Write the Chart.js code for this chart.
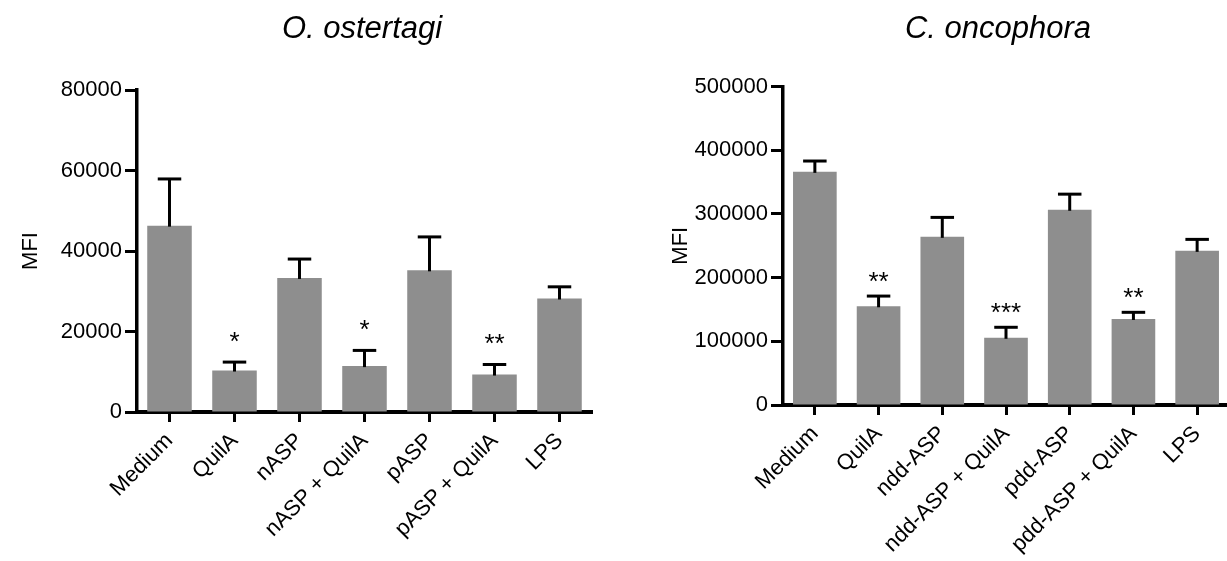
<!DOCTYPE html>
<html>
<head>
<meta charset="utf-8">
<script src="https://cdn.jsdelivr.net/npm/chart.js@4.4.0/dist/chart.umd.min.js"></script>
<style>
  html, body { margin: 0; padding: 0; background: #fff; overflow: hidden; }
  #wrap { position: relative; width: 1227px; height: 561px; overflow: hidden; }
  canvas { position: absolute; top: 0; }
</style>
</head>
<body>
<div id="wrap">
  <canvas id="c1" width="613" height="561" style="left:0px"></canvas>
  <canvas id="c2" width="616" height="561" style="left:613px"></canvas>
</div>
<script>
// ---- Data: O. ostertagi ----
const titleO = 'O. ostertagi';
const categoriesO = ['Medium', 'QuilA', 'nASP', 'nASP + QuilA', 'pASP', 'pASP + QuilA', 'LPS'];
const meanO = [46300, 10300, 33300, 11400, 35200, 9300, 28200];
const semO = [11600, 2100, 4700, 3900, 8300, 2500, 2900];
const sigO = ['', '*', '', '*', '', '**', ''];
const yMaxO = 80000;
const yStepO = 20000;

// ---- Data: C. oncophora ----
const titleC = 'C. oncophora';
const categoriesC = ['Medium', 'QuilA', 'ndd-ASP', 'ndd-ASP + QuilA', 'pdd-ASP', 'pdd-ASP + QuilA', 'LPS'];
const meanC = [366000, 155000, 264000, 105500, 306500, 135000, 242000];
const semC = [17000, 16000, 30500, 16500, 24500, 10500, 18000];
const sigC = ['', '**', '', '***', '', '**', ''];
const yMaxC = 500000;
const yStepC = 100000;

const yAxisTitle = 'MFI';
const FONT = "'Liberation Sans', Arial, Helvetica, sans-serif";

const extrasPlugin = {
  id: 'extras',
  afterDatasetsDraw(chart, args, o) {
    const ctx = chart.ctx;
    const meta = chart.getDatasetMeta(0);
    const ys = chart.scales.y;
    const ds = chart.data.datasets[0].data;
    ctx.save();
    ctx.strokeStyle = '#000';
    ctx.lineWidth = 3;
    ctx.lineCap = 'butt';
    meta.data.forEach((bar, i) => {
      const yBase = ys.getPixelForValue(ds[i]);
      const yTop = ys.getPixelForValue(ds[i] + o.sem[i]);
      ctx.beginPath();
      ctx.moveTo(bar.x, yBase + 1);
      ctx.lineTo(bar.x, yTop);
      ctx.stroke();
      ctx.beginPath();
      ctx.moveTo(bar.x - o.capW / 2, yTop);
      ctx.lineTo(bar.x + o.capW / 2, yTop);
      ctx.stroke();
      if (o.sig[i]) {
        ctx.fillStyle = '#000';
        ctx.font = '26px ' + FONT;
        ctx.textAlign = 'center';
        ctx.textBaseline = 'alphabetic';
        ctx.fillText(o.sig[i], bar.x, yTop - o.starOffset + 14.6);
      }
    });
    ctx.restore();
  },
  afterDraw(chart, args, o) {
    const ctx = chart.ctx;
    const ca = chart.chartArea;
    ctx.save();
    ctx.fillStyle = '#000';
    ctx.font = 'italic 31px ' + FONT;
    ctx.textAlign = 'center';
    ctx.textBaseline = 'alphabetic';
    ctx.fillText(o.title, o.titleX, o.titleY);
    ctx.font = '22px ' + FONT;
    ctx.translate(o.yTitleX, (ca.top + ca.bottom) / 2);
    ctx.rotate(-Math.PI / 2);
    ctx.textBaseline = 'middle';
    ctx.fillText(yAxisTitle, 0, 0);
    ctx.restore();
  }
};

function makeChart(id, cats, means, sems, sigs, yMax, yStep, cfg) {
  return new Chart(document.getElementById(id), {
    type: 'bar',
    data: {
      labels: cats,
      datasets: [{
        data: means,
        backgroundColor: '#8e8e8e',
        borderWidth: 0,
        categoryPercentage: 1.0,
        barPercentage: 0.685
      }]
    },
    plugins: [extrasPlugin],
    options: {
      responsive: false,
      animation: false,
      devicePixelRatio: 1,
      layout: { autoPadding: false, padding: { left: 0, top: cfg.top, right: cfg.right, bottom: 0 } },
      plugins: {
        legend: { display: false },
        tooltip: { enabled: false },
        extras: {
          sem: sems, sig: sigs, capW: 23.5, starOffset: cfg.starOffset,
          title: cfg.title, titleX: cfg.titleX, titleY: cfg.titleY, yTitleX: cfg.yTitleX
        }
      },
      scales: {
        x: {
          offset: true,
          grid: { offset: false, drawOnChartArea: false, drawTicks: true, tickLength: 10, tickWidth: 3, tickColor: '#000' },
          border: { display: true, width: 4, color: '#000' },
          ticks: { color: '#000', font: { family: FONT, size: 22 }, maxRotation: 45, minRotation: 45, autoSkip: false, padding: 6 },
          afterFit(s) { s.height = cfg.xHeight; }
        },
        y: {
          min: 0, max: yMax,
          grid: { drawOnChartArea: false, drawTicks: true, tickLength: 12, tickWidth: 3, tickColor: '#000' },
          border: { display: true, width: 3.5, color: '#000' },
          ticks: { stepSize: yStep, color: '#000', font: { family: FONT, size: 22 }, padding: 3, callback: v => String(v) },
          afterFit(s) { s.width = cfg.yWidth; }
        }
      }
    }
  });
}

makeChart('c1', categoriesO, meanO, semO, sigO, yMaxO, yStepO, {
  top: 90, right: 21, xHeight: 149, yWidth: 137, starOffset: 27,
  title: titleO, titleX: 362, titleY: 38, yTitleX: 31
});
makeChart('c2', categoriesC, meanC, semC, sigC, yMaxC, yStepC, {
  top: 86.5, right: 0, xHeight: 156, yWidth: 170, starOffset: 21,
  title: titleC, titleX: 385, titleY: 37.5, yTitleX: 68
});
</script>
</body>
</html>
